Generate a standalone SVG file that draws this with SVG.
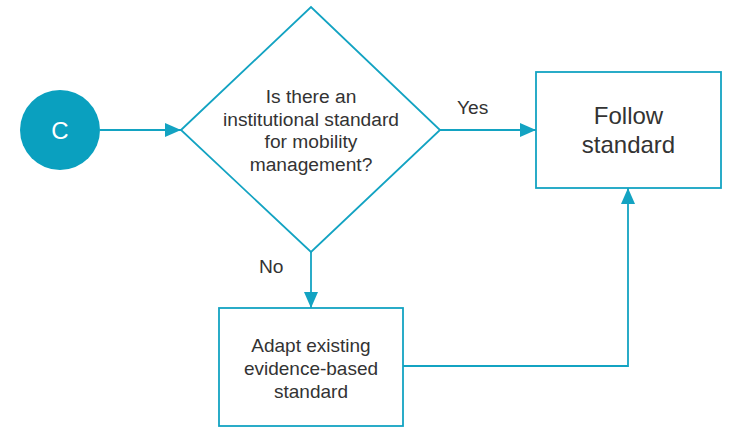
<svg xmlns="http://www.w3.org/2000/svg" width="729" height="428" viewBox="0 0 729 428">
  <style>
    .shape { fill: #ffffff; stroke: #13a3c2; stroke-width: 1.8; }
    .conn { fill: none; stroke: #13a3c2; stroke-width: 1.8; }
    .t { font-family: "Liberation Sans", Arial, sans-serif; fill: #333333; text-anchor: middle; }
    .d { font-size: 19.2px; }
    .b { font-size: 19px; }
    .f { font-size: 24px; }
    .lbl { font-family: "Liberation Sans", Arial, sans-serif; fill: #333333; font-size: 19.2px; }
  </style>
  <defs>
    <marker id="arrow" markerUnits="userSpaceOnUse" markerWidth="16" markerHeight="14" refX="16" refY="7" orient="auto">
      <path d="M0,0 L16,7 L0,14 z" fill="#13a3c2"/>
    </marker>
  </defs>
  <rect width="729" height="428" fill="#ffffff"/>

  <g id="connectors">
    <path class="conn" d="M100,130 L181,130" marker-end="url(#arrow)"/>
    <path class="conn" d="M440,130 L536,130" marker-end="url(#arrow)"/>
    <path class="conn" d="M311,252 L311,308" marker-end="url(#arrow)"/>
    <path class="conn" d="M403,366 L628,366 L628,188" marker-end="url(#arrow)"/>
    <text class="lbl" x="457" y="114">Yes</text>
    <text class="lbl" x="259" y="273">No</text>
  </g>

  <g id="node-c">
    <circle cx="60" cy="130" r="40" fill="#0aa0bf"/>
    <text x="60" y="139" font-family="Liberation Sans, Arial, sans-serif" font-size="24" fill="#ffffff" text-anchor="middle">C</text>
  </g>

  <g id="node-decision">
    <polygon class="shape" points="181,130 311,7 440,130 311,252"/>
    <text class="t d" x="311" y="102.7">Is there an</text>
    <text class="t d" x="311" y="125.5">institutional standard</text>
    <text class="t d" x="311" y="148.3">for mobility</text>
    <text class="t d" x="311" y="171">management?</text>
  </g>

  <g id="node-follow">
    <rect class="shape" x="536" y="72" width="185" height="116"/>
    <text class="t f" x="628.5" y="124">Follow</text>
    <text class="t f" x="628.5" y="153">standard</text>
  </g>

  <g id="node-adapt">
    <rect class="shape" x="219" y="308" width="184" height="118"/>
    <text class="t b" x="311" y="351.7">Adapt existing</text>
    <text class="t b" x="311" y="374.7">evidence-based</text>
    <text class="t b" x="311" y="397.7">standard</text>
  </g>
</svg>
